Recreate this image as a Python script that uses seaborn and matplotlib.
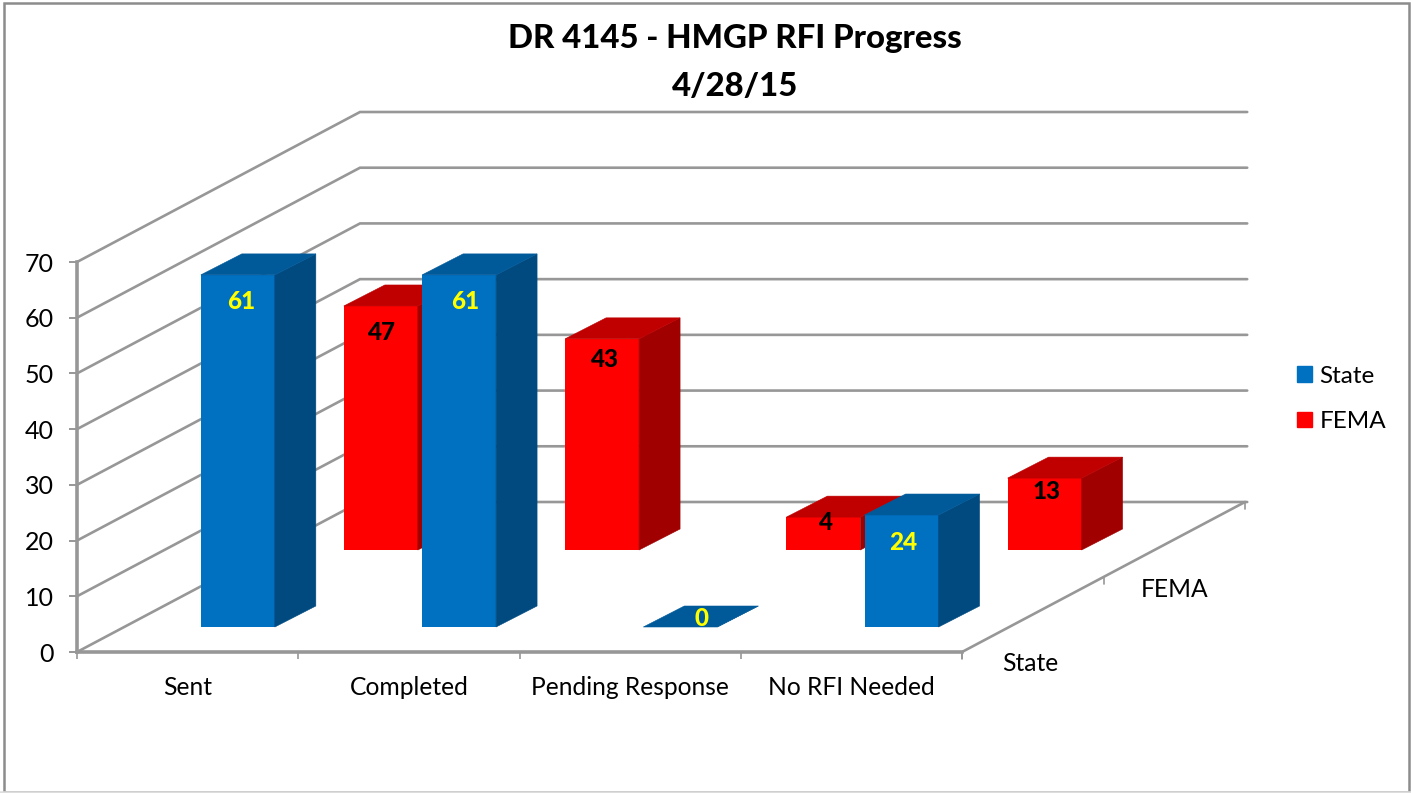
import numpy as np
import pandas as pd
import matplotlib
matplotlib.use('Agg')
import matplotlib.pyplot as plt
from matplotlib.lines import Line2D
from matplotlib.patches import Patch, Polygon, Rectangle
import seaborn as sns

categories = ['Sent', 'Completed', 'Pending Response', 'No RFI Needed']
# labels printed on the bars
state_labels = [61, 61, 0, 24]
fema_labels = [47, 43, 4, 13]
# bar heights as drawn against the axis (they do not quite agree with the labels)
state_heights = [63.2, 63.2, 0, 20.1]
fema_heights = [43.8, 37.9, 5.9, 12.9]
y_ticks = [0, 10, 20, 30, 40, 50, 60, 70]

W, H = 1411, 793
GRID = '#979797'
FONT = 'Lato'

sns.set_theme(style='white')
plt.rcParams['font.family'] = [FONT, 'DejaVu Sans']
plt.rcParams['text.color'] = 'black'
plt.rcParams['xtick.labelcolor'] = 'black'
plt.rcParams['ytick.labelcolor'] = 'black'

fig = plt.figure(figsize=(W / 100, H / 100), dpi=100, facecolor='white')


# axes placed by pixel box of the picture
def box(left, right, bottom, top):
    return [left / W, 1 - bottom / H, (right - left) / W, (bottom - top) / H]


PX_X = 885 / 4      # pixels for one category
PX_Y = 390 / 70     # pixels for one value unit

# the walls and floor
ax = fig.add_axes(box(77, 962, 652, 262), facecolor='none')
ax.set_xlim(-0.5, 3.5)
ax.set_ylim(0, 70)
sns.despine(ax=ax)
for s in ['left', 'bottom']:
    ax.spines[s].set_color(GRID)
    ax.spines[s].set_linewidth(2.6)
ax.set_yticks(y_ticks)
ax.set_xticks(range(4), categories)
ax.set_xticks(np.arange(-0.5, 4), minor=True)
ax.tick_params(axis='y', length=5.5, width=1.4, color=GRID, pad=11, labelsize=18, left=True)
ax.tick_params(axis='x', which='major', length=0, pad=17, labelsize=17.7)
ax.tick_params(axis='x', which='minor', length=5, width=1.2, color=GRID, bottom=True)
for lab in ax.get_yticklabels():
    lab.set_va('center_baseline')

deep_x = 283 / PX_X
deep_y = 150 / PX_Y
for v in y_ticks:
    ax.plot([-0.5, -0.5 + deep_x, 3.5 + deep_x + 0.01], [v, v + deep_y, v + deep_y],
            color=GRID, lw=1.9, clip_on=False, zorder=1, solid_joinstyle='miter')
ax.plot([3.5, 3.5 + deep_x], [0, deep_y], color=GRID, lw=1.9, clip_on=False)
# depth axis ticks and names
for frac, name, tx, ty in [(0, 'State', 0.31, -2.0), (0.5, 'FEMA', 0.32, -2.3), (1, '', 0, 0)]:
    px = 3.5 + deep_x * frac
    py = deep_y * frac
    ax.plot([px, px], [py, py - 1.25], color=GRID, lw=1.2, clip_on=False)
    if name:
        ax.text(px + tx, py + ty, name, fontsize=17.7, ha='center', va='center')


def draw_series(rect, name, heights, labels, front, top, side, text_col, drops):
    a = fig.add_axes(rect, facecolor='none')
    df = pd.DataFrame({'category': categories, 'height': heights, 'series': name})
    sns.barplot(data=df, x='category', y='height', color=front, saturation=1,
                width=74 / PX_X, order=categories, linewidth=0, ax=a)
    a.set_xlim(-0.5, 3.5)
    a.set_ylim(0, 70)
    a.axis('off')
    dx = 41 / PX_X
    dy = 21 / PX_Y
    for bar, lab, drop in zip(a.patches, labels, drops):
        x0 = bar.get_x()
        x1 = x0 + bar.get_width()
        h = bar.get_height()
        a.add_patch(Polygon([(x1, 0), (x1 + dx, dy), (x1 + dx, h + dy), (x1, h)],
                            fc=side, ec=side, lw=0.4, clip_on=False))
        a.add_patch(Polygon([(x0, h), (x1, h), (x1 + dx, h + dy), (x0 + dx, h + dy)],
                            fc=top, ec=top, lw=0.4, clip_on=False))
        a.annotate(str(lab), ((x0 + x1) / 2, h), xytext=drop, textcoords='offset pixels',
                   ha='center', va='center', color=text_col, fontsize=17.5, fontweight='black',
                   annotation_clip=False)
    return a


# back row first so the front row covers it
draw_series(box(270.2, 1155.2, 550, 160), 'FEMA', fema_heights, fema_labels,
            '#FF0000', '#C00000', '#A00000', 'black',
            [(0, -27), (2, -21), (2, -5), (2, -13)])
draw_series(box(127.2, 1012.2, 627, 237), 'State', state_heights, state_labels,
            '#0070C0', '#005A9A', '#004A80', '#FFFF00',
            [(3, -27), (6, -27), (21, 8), (2, -27)])

fig.text(735 / W, 1 - 62.5 / H, 'DR 4145 - HMGP RFI Progress\n4/28/15', ha='center', va='center',
         fontsize=23.7, fontweight='black', linespacing=1.78)

fig.legend(handles=[Patch(color='#0070C0', label='State'), Patch(color='#FF0000', label='FEMA')],
           loc='center left', bbox_to_anchor=(1297 / W, 1 - 399 / H), frameon=False,
           fontsize=17.5, handlelength=0.62, handleheight=0.62, handletextpad=0.3, labelspacing=1.0,
           borderpad=0, borderaxespad=0)

fig.add_artist(Rectangle((4 / W, 1 / H), 1405 / W, 789 / H, transform=fig.transFigure,
                         fill=False, ec='#8c8c8c', lw=1.8))
fig.add_artist(Line2D([0, 1], [1 / H, 1 / H], transform=fig.transFigure, color='#dddddd', lw=1.8))

fig.savefig('out.png', dpi=100)
